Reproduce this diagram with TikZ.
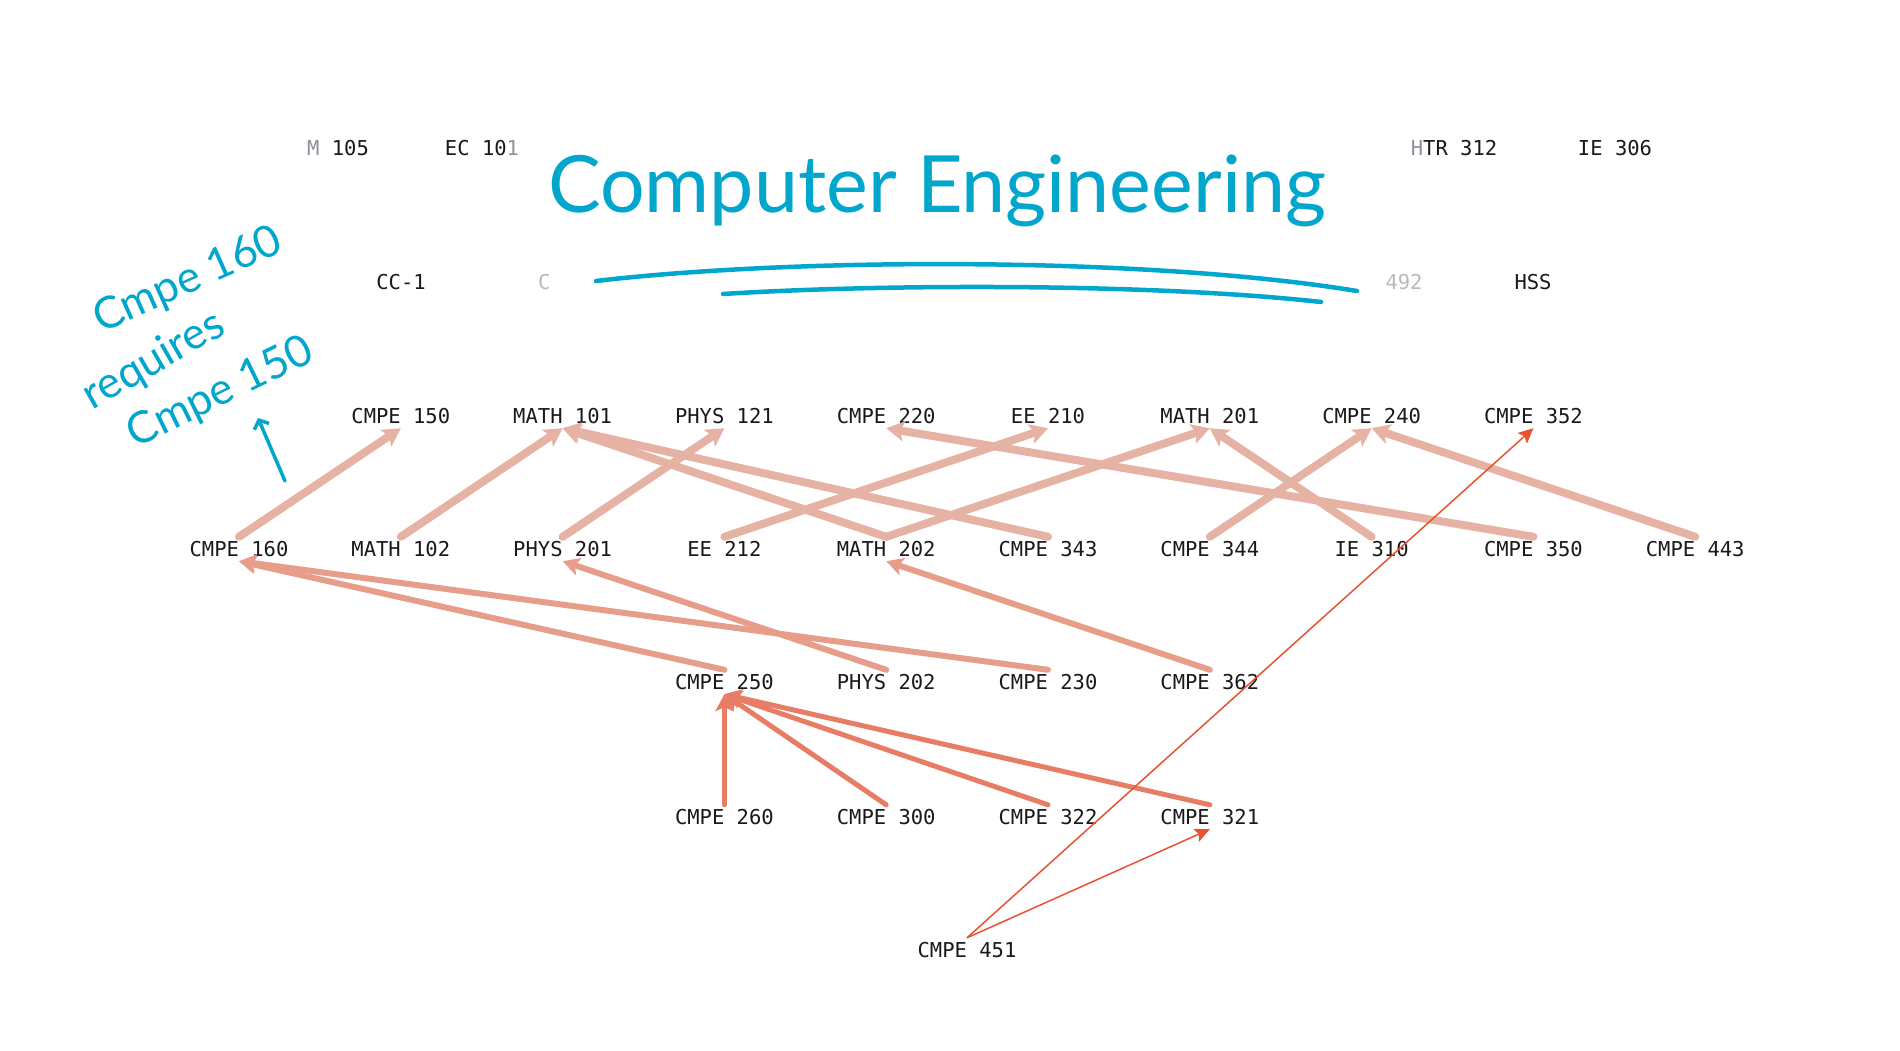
\documentclass[tikz,border=0pt]{standalone}
\usepackage{fontspec}
\setmonofont{DejaVu Sans Mono}
\newfontfamily\handfont{Lato}
\usetikzlibrary{arrows.meta}
\definecolor{inkblue}{RGB}{0,166,204}
\definecolor{edgeup}{RGB}{229,178,163}
\definecolor{edgemid}{RGB}{230,157,137}
\definecolor{edgelow}{RGB}{232,125,102}
\definecolor{edgetop}{RGB}{232,82,46}
\definecolor{fadegray}{RGB}{185,185,185}
\definecolor{halfgray}{RGB}{140,145,155}
\definecolor{labelink}{RGB}{25,25,25}

\tikzset{
  course/.style={font=\ttfamily\fontsize{20.5}{24}\selectfont, text=labelink,
    inner xsep=0pt, inner ysep=5pt, text height=14pt, text depth=0pt},
  upedge/.style={edgeup, line width=8pt, line cap=round,
    -{Stealth[length=18pt,width=20pt,inset=4pt]}},
  midedge/.style={edgemid, line width=6pt, line cap=round,
    -{Stealth[length=17pt,width=18pt,inset=4pt]}},
  lowedge/.style={edgelow, line width=5pt, line cap=round,
    -{Stealth[length=17pt,width=18pt,inset=4pt]}},
  topedge/.style={edgetop, line width=1.5pt,
    -{Stealth[length=15pt,width=14pt,inset=3pt]}},
  title/.style={font=\handfont\fontsize{79}{86}\selectfont, text=inkblue, inner sep=0pt},
  note/.style={font=\handfont\fontsize{44}{50}\selectfont, text=inkblue, inner sep=0pt},
  inkstroke/.style={inkblue, line width=4.5pt, line cap=round}
}

\begin{document}
\begin{tikzpicture}[x=1pt,y=-1pt]
    \useasboundingbox (0,0) rectangle (1900,1050);

    % handwritten title
    \node[title, anchor=base] (title) at (937,212) {Computer Engineering};
    \draw[inkstroke] (596,281) .. controls (800,257) and (1150,257) .. (1357,291);
    \draw[inkstroke] (723,294) .. controls (880,284) and (1150,283) .. (1321,302);

    % half hidden rows
    \node[course] (hum105) at (338,148) {{\color{halfgray}M} 105};
    \node[course] (ec101) at (482,148) {EC 10{\color{halfgray}1}};
    \node[course] (htr312) at (1454,148) {{\color{halfgray}H}TR 312};
    \node[course] (ie306) at (1615,148) {IE 306};
    \node[course] (cc1) at (401,282) {CC-1};
    \node[course, anchor=west, text=fadegray] (cc2) at (538,282) {C};
    \node[course, text=fadegray] (c492) at (1404,282) {492};
    \node[course] (hss) at (1533,282) {HSS};

    % course rows
    \foreach \k/\nm/\txt in {1/c150/CMPE 150, 2/m101/MATH 101, 3/p121/PHYS 121,
        4/c220/CMPE 220, 5/e210/EE 210, 6/m201/MATH 201, 7/c240/CMPE 240, 8/c352/CMPE 352}
        \node[course] (\nm) at ({239+161.8*\k},416) {\txt};
    \foreach \k/\nm/\txt in {0/c160/CMPE 160, 1/m102/MATH 102, 2/p201/PHYS 201,
        3/e212/EE 212, 4/m202/MATH 202, 5/c343/CMPE 343, 6/c344/CMPE 344,
        7/ie310/IE 310, 8/c350/CMPE 350, 9/c443/CMPE 443}
        \node[course] (\nm) at ({239+161.8*\k},549) {\txt};
    \foreach \k/\nm/\txt in {3/c250/CMPE 250, 4/p202/PHYS 202, 5/c230/CMPE 230, 6/c362/CMPE 362}
        \node[course] (\nm) at ({239+161.8*\k},682) {\txt};
    \foreach \k/\nm/\txt in {3/c260/CMPE 260, 4/c300/CMPE 300, 5/c322/CMPE 322, 6/c321/CMPE 321}
        \node[course] (\nm) at ({239+161.8*\k},817) {\txt};
    \node[course] (c451) at (967,950) {CMPE 451};

    % prerequisites
    \foreach \a/\b in {c160/c150, m102/m101, p201/p121, e212/e210, m202/m101, c343/m101,
        m202/m201, c350/c220, c344/c240, ie310/m201, c443/c240}
        \draw[upedge] (\a.north) -- (\b.south);
    \foreach \a/\b in {c250/c160, c230/c160, p202/p201, c362/m202}
        \draw[midedge] (\a.north) -- (\b.south);
    \foreach \a/\b in {c260/c250, c300/c250, c322/c250, c321/c250}
        \draw[lowedge] (\a.north) -- (\b.south);
    \draw[topedge] (c451.north) -- (c321.south);
    \draw[topedge] (c451.north) -- (c352.south);

    % side note
    \node[note, rotate=24] (note1) at (188,281) {Cmpe 160};
    \node[note, rotate=30] (note2) at (154,361) {requires};
    \node[note, rotate=26] (note3) at (221,393) {Cmpe 150};
    \coordinate (notetail) at (285,481);
    \coordinate (notetip) at (258,418);
    \draw[inkstroke, line width=3.5pt, -{Straight Barb[length=7pt,width=16pt]}] (notetail) -- (notetip);
\end{tikzpicture}
\end{document}
